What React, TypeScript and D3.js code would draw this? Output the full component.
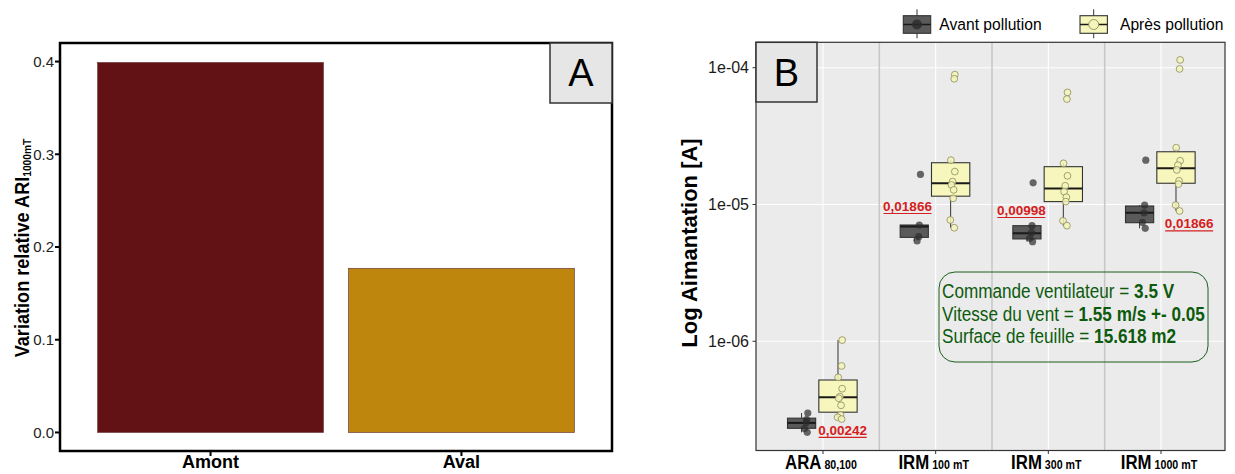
import React from "react";
import * as d3 from "d3";

// ---------- Panel A data ----------
const categoriesA = ["Amont", "Aval"];
const valuesA = [0.399, 0.177];
const ticksA = [0, 0.1, 0.2, 0.3, 0.4];

// ---------- Panel B data ----------
const categoriesB = ["ARA", "IRM", "IRM", "IRM"];
const subLabelsB = ["80,100", "100 mT", "300 mT", "1000 mT"];
const ticksB = [1e-6, 1e-5, 1e-4];
const tickLabelsB = ["1e-06", "1e-05", "1e-04"];
const seriesNames = ["Avant pollution", "Après pollution"];

// Avant pollution box statistics
const avantLow = [2.16e-7, 5.41e-6, 5.35e-6, 6.7e-6];
const avantQ1 = [2.31e-7, 5.75e-6, 5.6e-6, 7.36e-6];
const avantMedian = [2.53e-7, 6.9e-6, 6.16e-6, 8.7e-6];
const avantQ3 = [2.74e-7, 7.08e-6, 7.0e-6, 9.75e-6];
const avantHigh = [2.99e-7, 7.08e-6, 7.0e-6, 9.9e-6];
const avantPoints = [
  [2.99e-7, 2.68e-7, 2.55e-7, 2.3e-7, 2.16e-7],
  [1.66e-5, 7.08e-6, 5.82e-6, 5.41e-6],
  [1.44e-5, 7.0e-6, 6.22e-6, 5.66e-6, 5.35e-6],
  [2.11e-5, 9.9e-6, 8.7e-6, 7.41e-6, 6.7e-6],
];

// Après pollution box statistics
const apresLow = [2.7e-7, 6.76e-6, 7.0e-6, 8.96e-6];
const apresQ1 = [3.03e-7, 1.15e-5, 1.05e-5, 1.43e-5];
const apresMedian = [3.9e-7, 1.43e-5, 1.31e-5, 1.84e-5];
const apresQ3 = [5.21e-7, 2.02e-5, 1.89e-5, 2.43e-5];
const apresHigh = [1.02e-6, 2.11e-5, 2.0e-5, 2.6e-5];
const apresPoints = [
  [1.02e-6, 6.6e-7, 5.45e-7, 4.5e-7, 3.94e-7, 3.83e-7, 3.4e-7, 2.89e-7, 2.78e-7, 2.7e-7],
  [8.9e-5, 8.3e-5, 2.11e-5, 1.74e-5, 1.47e-5, 1.39e-5, 1.28e-5, 1.11e-5, 7.7e-6, 6.76e-6],
  [6.6e-5, 5.9e-5, 2.0e-5, 1.62e-5, 1.37e-5, 1.24e-5, 1.13e-5, 1.05e-5, 7.6e-6, 7.0e-6],
  [1.14e-4, 9.8e-5, 2.6e-5, 2.09e-5, 1.94e-5, 1.79e-5, 1.49e-5, 1.41e-5, 9.9e-6, 8.96e-6],
];

// p-value annotations
const pLabels = ["0,00242", "0,01866", "0,00998", "0,01866"];
const pLabelValues = [2.07e-7, 8.96e-6, 8.38e-6, 6.7e-6];
const pLabelShift = [0.175, -0.25, -0.24, 0.25];

// jitter offsets (category units)
const jitterAvant = [0.03, 0.02, 0.015, 0.0, 0.025];
const jitterApres = [0.03, 0.025, -0.005, 0.03, 0.01, 0.0, 0.02, 0.015, -0.01, 0.025];

const infoLines = [
  ["Commande ventilateur = ", "3.5 V"],
  ["Vitesse du vent = ", "1.55 m/s +- 0.05"],
  ["Surface de feuille = ", "15.618 m2"],
];

const FONT = "'Liberation Sans', Arial, Helvetica, sans-serif";

export default function App() {
  // ---- Panel A scales ----
  const aL = 60, aR = 612, aT = 43, aB = 451;
  const xA = d3.scaleLinear().domain([0.4, 2.6]).range([aL, aR]);
  const yA = d3.scaleLinear().domain([-0.02, 0.42]).range([aB, aT]);
  const barW = 0.9;
  const barColors = ["#621215", "#be860c"];

  // ---- Panel B scales ----
  const bL = 756, bR = 1225, bT = 42.3, bB = 450.5;
  const xB = d3.scaleLinear().domain([1, 4]).range([823, 1161]);
  const unit = xB(2) - xB(1);
  const yB = d3.scaleLog().domain([1.59e-7, 1.534e-4]).range([bB, bT]);

  const darkOff = -0.19, lightOff = 0.133;
  const darkW = 0.25, lightW = 0.34;
  const darkPtOff = -0.165, lightPtOff = 0.14;

  const darkFill = "#5a5a5a";
  const lightFill = "#f6f6bd";

  const box = (i: number, off: number, w: number, low: number[], q1: number[], med: number[], q3: number[], high: number[], fill: string, key: string) => {
    const cx = xB(i + 1) + off * unit;
    const half = (w * unit) / 2;
    return (
      <g key={key}>
        <line x1={cx} x2={cx} y1={yB(high[i])} y2={yB(q3[i])} stroke="#333" strokeWidth={1} />
        <line x1={cx} x2={cx} y1={yB(q1[i])} y2={yB(low[i])} stroke="#333" strokeWidth={1} />
        <rect x={cx - half} width={half * 2} y={yB(q3[i])} height={yB(q1[i]) - yB(q3[i])} fill={fill} stroke="#333" strokeWidth={1.1} />
        <line x1={cx - half} x2={cx + half} y1={yB(med[i])} y2={yB(med[i])} stroke="#1a1a1a" strokeWidth={2} />
      </g>
    );
  };

  return (
    <svg width={1235} height={474} style={{ position: "absolute", left: 0, top: 0, background: "#fff" }} fontFamily={FONT}>
      {/* ================= Panel A ================= */}
      {categoriesA.map((c, i) => (
        <rect key={c} x={xA(i + 1 - barW / 2)} width={xA(barW) - xA(0)} y={yA(valuesA[i])} height={yA(0) - yA(valuesA[i])} fill={barColors[i]} stroke="#6e3b3b" strokeWidth={0.7} />
      ))}
      <rect x={aL} y={aT} width={aR - aL} height={aB - aT} fill="none" stroke="#000" strokeWidth={2.5} />
      {ticksA.map((t) => (
        <g key={t}>
          <line x1={aL - 5} x2={aL} y1={yA(t)} y2={yA(t)} stroke="#000" strokeWidth={2} />
          <text x={aL - 6} y={yA(t)} dy="0.36em" textAnchor="end" fontSize={15} fill="#222">{t.toFixed(1)}</text>
        </g>
      ))}
      {categoriesA.map((c, i) => (
        <g key={"xa" + c}>
          <line x1={xA(i + 1)} x2={xA(i + 1)} y1={aB} y2={aB + 5} stroke="#000" strokeWidth={2} />
          <text x={xA(i + 1)} y={468} textAnchor="middle" fontSize={18} fontWeight="bold" fill="#000">{c}</text>
        </g>
      ))}
      <g transform="translate(29,248) rotate(-90)">
        <g transform="scale(0.93,1)">
          <text x={0} y={0} textAnchor="middle" fontSize={19.5} fontWeight="bold" fill="#000">
            Variation relative ARI<tspan fontSize={11} dy={2}>1000mT</tspan>
          </text>
        </g>
      </g>
      <rect x={550} y={aT} width={aR - 550} height={60} fill="#e6e6e6" stroke="#333" strokeWidth={1.5} />
      <text x={581} y={86} textAnchor="middle" fontSize={38} fill="#000">A</text>

      {/* ================= Panel B ================= */}
      <rect x={bL} y={bT} width={bR - bL} height={bB - bT} fill="#ebebeb" />
      {ticksB.map((t) => (
        <line key={"gy" + t} x1={bL} x2={bR} y1={yB(t)} y2={yB(t)} stroke="#fff" strokeWidth={1.1} />
      ))}
      {categoriesB.map((c, i) => (
        <line key={"gx" + i} x1={xB(i + 1)} x2={xB(i + 1)} y1={bT} y2={bB} stroke="#fff" strokeWidth={1.1} />
      ))}
      {[1.5, 2.5, 3.5].map((s) => (
        <line key={"sep" + s} x1={xB(s)} x2={xB(s)} y1={bT} y2={bB} stroke="#c6c6c6" strokeWidth={1.5} />
      ))}

      {categoriesB.map((c, i) => box(i, darkOff, darkW, avantLow, avantQ1, avantMedian, avantQ3, avantHigh, darkFill, "bd" + i))}
      {categoriesB.map((c, i) => box(i, lightOff, lightW, apresLow, apresQ1, apresMedian, apresQ3, apresHigh, lightFill, "bl" + i))}

      {avantPoints.map((pts, i) =>
        pts.map((v, j) => (
          <circle key={"pd" + i + "-" + j} cx={xB(i + 1) + (darkPtOff + jitterAvant[j % jitterAvant.length]) * unit} cy={yB(v)} r={3.6} fill="#2b2b2b" fillOpacity={0.7} />
        ))
      )}
      {apresPoints.map((pts, i) =>
        pts.map((v, j) => (
          <circle key={"pl" + i + "-" + j} cx={xB(i + 1) + (lightPtOff + jitterApres[j % jitterApres.length]) * unit} cy={yB(v)} r={3.4} fill="#f4f4bb" fillOpacity={0.85} stroke="#8c8c5c" strokeWidth={0.8} />
        ))
      )}

      {pLabels.map((p, i) => {
        const cx = xB(i + 1) + pLabelShift[i] * unit;
        const y = yB(pLabelValues[i]);
        return (
          <g key={"p" + i}>
            <text x={cx} y={y} textAnchor="middle" fontSize={13.5} fontWeight="bold" fill="#d42020">{p}</text>
            <line x1={cx - 24} x2={cx + 24} y1={y + 2.5} y2={y + 2.5} stroke="#d42020" strokeWidth={1.2} />
          </g>
        );
      })}

      {/* info box */}
      <rect x={939} y={272} width={269} height={90} rx={16} ry={16} fill="none" stroke="#1d5e1d" strokeWidth={1} />
      {infoLines.map((l, i) => (
        <g key={"info" + i} transform={`translate(942,${298 + i * 22.5}) scale(0.88,1)`}>
          <text x={0} y={0} fontSize={19.5} fill="#0d5a0d">
            {l[0]}<tspan fontWeight="bold">{l[1]}</tspan>
          </text>
        </g>
      ))}

      <rect x={bL} y={bT} width={bR - bL} height={bB - bT} fill="none" stroke="#333" strokeWidth={1.2} />
      <rect x={bL} y={bT} width={61} height={59.7} fill="#e6e6e6" stroke="#333" strokeWidth={1.5} />
      <text x={786.5} y={86} textAnchor="middle" fontSize={38} fill="#000">B</text>

      {ticksB.map((t, i) => (
        <g key={"ty" + t}>
          <line x1={bL - 3.5} x2={bL} y1={yB(t)} y2={yB(t)} stroke="#333" strokeWidth={1} />
          <text x={749} y={yB(t)} dy="0.36em" textAnchor="end" fontSize={16} fill="#1a1a1a">{tickLabelsB[i]}</text>
        </g>
      ))}
      {categoriesB.map((c, i) => (
        <g key={"tx" + i}>
          <line x1={xB(i + 1)} x2={xB(i + 1)} y1={bB} y2={bB + 3.5} stroke="#333" strokeWidth={1} />
          <g transform={`translate(${xB(i + 1) - 2},469) scale(0.82,1)`}>
            <text x={0} y={0} textAnchor="middle" fontWeight="bold" fill="#000">
              <tspan fontSize={20.5}>{c}</tspan>
              <tspan fontSize={13}>{" " + subLabelsB[i]}</tspan>
            </text>
          </g>
        </g>
      ))}
      <text transform="translate(697,243) rotate(-90)" textAnchor="middle" fontSize={22} fontWeight="bold" fill="#000">Log Aimantation [A]</text>

      {/* legend */}
      {seriesNames.map((s, i) => {
        const kx = i === 0 ? 903.3 : 1080;
        const tx = i === 0 ? 939.3 : 1120;
        const kw = 27.4;
        const cx = kx + kw / 2;
        return (
          <g key={"leg" + i}>
            <line x1={cx} x2={cx} y1={9.3} y2={38.3} stroke="#333" strokeWidth={1} />
            <rect x={kx} y={15.7} width={kw} height={17.6} fill={i === 0 ? darkFill : lightFill} stroke="#333" strokeWidth={1.1} />
            <line x1={kx} x2={kx + kw} y1={24.5} y2={24.5} stroke="#1a1a1a" strokeWidth={1.5} />
            {i === 0 ? (
              <circle cx={cx} cy={24.5} r={5} fill="#2b2b2b" fillOpacity={0.8} />
            ) : (
              <circle cx={cx} cy={24.5} r={5} fill="#f4f4bb" stroke="#8c8c5c" strokeWidth={0.9} />
            )}
            <g transform={`translate(${tx},30) scale(0.92,1)`}>
              <text x={0} y={0} fontSize={17} fill="#000">{s}</text>
            </g>
          </g>
        );
      })}
    </svg>
  );
}
